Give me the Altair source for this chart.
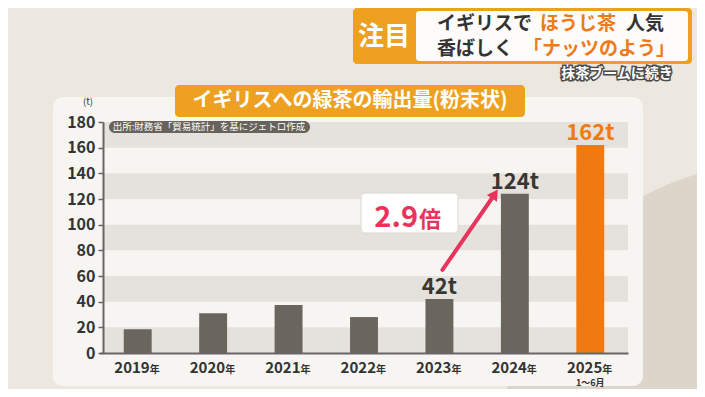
import altair as alt
import pandas as pd

# ---------------- data ----------------
years = ["2019年", "2020年", "2021年", "2022年", "2023年", "2024年", "2025年"]
year_nums = ["2019", "2020", "2021", "2022", "2023", "2024", "2025"]
values = [18.5, 31, 37.5, 28, 42, 124, 162]
value_labels = ["", "", "", "", "42t", "124t", "162t"]
sub_notes = ["", "", "", "", "", "", "1〜6月"]
bar_colors = ["#6b665d"] * 6 + ["#f07a12"]
label_colors = ["#3a3632"] * 6 + ["#f07a12"]

stripe_lo = [0, 40, 80, 120, 160]
stripe_hi = [20, 60, 100, 140, 180]
y_ticks = [0, 20, 40, 60, 80, 100, 120, 140, 160, 180]

FONT = "Noto Sans CJK JP"
DARK = "#3a3632"
PINK = "#e8345c"
ORANGE = "#eea120"

W, H = 525, 231
OX, OY = 103, 122  # page position of plot origin


def px(x):
    return x - OX


def py(y):
    return y - OY


df = pd.DataFrame({
    "year": years, "num": year_nums, "value": values, "label": value_labels,
    "note": sub_notes, "bcolor": bar_colors, "lcolor": label_colors,
})
stripes = pd.DataFrame({"lo": stripe_lo, "hi": stripe_hi})
one = pd.DataFrame({"k": [0]})

xscale = alt.Scale(domain=years, range=[-3, W], paddingInner=0.63, paddingOuter=0.315)
yscale = alt.Scale(domain=[0, 180], nice=False, zero=True)

x_axis = alt.Axis(title=None, labels=False, ticks=False, domainColor="#666",
                  domainWidth=2, zindex=1)
y_axis = alt.Axis(title=None, values=y_ticks, grid=False, tickSize=5, tickColor="#666",
                  tickWidth=1.5, domainColor="#666", domainWidth=2, labelFont=FONT,
                  labelFontSize=16, labelFontWeight="bold", labelColor="#333",
                  labelPadding=3, labelOverlap=False, labelBound=False, zindex=1)


def X():
    return alt.X("year:N", scale=xscale, sort=years, axis=x_axis)


def XD(v):
    return alt.XDatum(v, type="nominal", bandPosition=0.5, scale=xscale, axis=x_axis)


def YD(v):
    return alt.YDatum(v, type="quantitative", scale=yscale, axis=y_axis)


def rect(x1, x2, y1, y2, color, radius=0, stroke=None):
    kw = dict(color=color, cornerRadius=radius)
    if stroke:
        kw.update(stroke=stroke, strokeWidth=1)
    return alt.Chart(one).mark_rect(**kw).encode(
        x=alt.value(px(x1)), x2=alt.value(px(x2)),
        y=alt.value(py(y1)), y2=alt.value(py(y2)))


def text(t, x, y, size, color, align="center", weight="bold", baseline="middle", **kw):
    return alt.Chart(one).mark_text(
        text=t, font=FONT, fontSize=size, fontWeight=weight, color=color,
        align=align, baseline=baseline, **kw).encode(
        x=alt.value(px(x)), y=alt.value(py(y)))


# ------------- decorations -------------
big_circle = alt.Chart(one).mark_point(shape="circle", filled=True, size=283000,
                                       color="#ddd5c9", opacity=1).encode(
    x=alt.value(px(770)), y=alt.value(py(430)))
panel = rect(53, 643, 97, 386, "#f7f5f1", radius=10)

stripe_layer = alt.Chart(stripes).mark_rect(color="#e5e2dd").encode(
    x=alt.value(0), x2=alt.value(W),
    y=alt.Y("lo:Q", scale=yscale, axis=y_axis), y2="hi:Q")

bars = alt.Chart(df).mark_bar().encode(
    x=X(), y=alt.Y("value:Q", scale=yscale, axis=y_axis),
    color=alt.Color("bcolor:N", scale=None))

vlabels = alt.Chart(df).mark_text(font=FONT, fontSize=22, fontWeight="bold",
                                  baseline="alphabetic", dy=-5).encode(
    x=X(), y=alt.Y("value:Q", scale=yscale, axis=y_axis), text="label:N",
    color=alt.Color("lcolor:N", scale=None))

year_num = alt.Chart(df).mark_text(font=FONT, fontSize=15, fontWeight="bold",
                                   align="right", baseline="alphabetic", dx=12,
                                   color="#333").encode(
    x=X(), y=alt.value(py(373)), text="num:N")
year_kanji = alt.Chart(df).mark_text(text="年", font=FONT, fontSize=10, fontWeight="bold",
                                     align="left", baseline="alphabetic", dx=12,
                                     color="#333").encode(
    x=X(), y=alt.value(py(373)))
notes = alt.Chart(df).mark_text(font=FONT, fontSize=9, fontWeight="bold",
                                baseline="middle", color="#333").encode(
    x=X(), y=alt.value(py(383)), text="note:N")

# arrow from 2023 to 2024
arrow = alt.Chart(one).mark_rule(color=PINK, strokeWidth=4, strokeCap="round",
                                 xOffset=3, x2Offset=-20).encode(
    x=XD("2023年"),
    x2=alt.X2Datum("2024年", bandPosition=0.5),
    y=YD(64.7), y2=alt.Y2Datum(123.9))
arrow_head = alt.Chart(one).mark_point(shape="triangle-up", filled=True, size=150,
                                       angle=34, color=PINK, opacity=1,
                                       xOffset=-20).encode(
    x=XD("2024年"), y=YD(123.9))

ratio_box = rect(361, 458, 193, 233, "#ffffff", radius=4, stroke="#dcd8d2")
ratio_num = text("2.9", 418, 227, 29, PINK, align="right", baseline="alphabetic")
ratio_kanji = text("倍", 419, 227, 22, PINK, align="left", baseline="alphabetic")

# title banner & source
title_box = rect(175, 525, 85, 117, ORANGE, radius=4)
title_txt = text("イギリスへの緑茶の輸出量(粉末状)", 350, 101, 20, "#ffffff")
src_box = rect(109, 310, 121, 133, "#67635c", radius=6)
src_txt = text("出所:財務省「貿易統計」を基にジェトロ作成", 209, 127, 9.5, "#ffffff",
               weight="normal")
unit_txt = text("(t)", 88, 102, 9.5, "#333", weight="normal")

# header
head_orange = rect(353, 692, 8, 64, ORANGE, radius=4)
head_white = rect(416, 688, 11, 61, "#fdfcfa", radius=3)
head_tag = text("注目", 384, 37, 26, "#ffffff")
h1a = text("イギリスで", 437, 24, 19, "#333333", align="left")
h1b = text("ほうじ茶", 540, 24, 19, "#ee7a1a", align="left")
h1c = text("人気", 626, 24, 19, "#333333", align="left")
h2a = text("香ばしく", 437, 49, 19, "#333333", align="left")
h2b = text("「ナッツのよう」", 523, 49, 19, "#ee7a1a", align="left")
sub_stroke = text("抹茶ブームに続き", 617, 74, 14, "#4a4a4a", stroke="#4a4a4a",
                  strokeWidth=3)
sub_fill = text("抹茶ブームに続き", 617, 74, 14, "#ffffff")

chart = alt.layer(
    big_circle, panel, stripe_layer, bars, vlabels, year_num, year_kanji, notes,
    arrow, arrow_head, ratio_box, ratio_num, ratio_kanji,
    title_box, title_txt, src_box, src_txt, unit_txt,
    head_orange, head_white, head_tag, h1a, h1b, h1c, h2a, h2b, sub_stroke, sub_fill,
).properties(
    width=W, height=H,
    autosize=alt.AutoSizeParams(type="none"),
    padding={"left": 95, "top": 114, "right": 689 - 95 - W, "bottom": 381 - 114 - H},
    background="#ece7df",
).configure_view(stroke=None)

chart.save("out.html", embed_options={"renderer": "svg", "actions": False})
